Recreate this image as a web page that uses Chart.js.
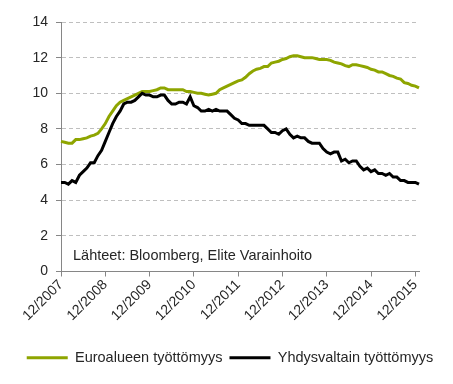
<!DOCTYPE html>
<html><head><meta charset="utf-8">
<style>html,body{margin:0;padding:0;background:#fff}#wrap{position:relative;width:453px;height:384px}</style>
<script src="https://cdn.jsdelivr.net/npm/chart.js@4/dist/chart.umd.min.js"></script>
</head><body><div id="wrap"><canvas id="c" width="453" height="384"></canvas></div>
<script>
// Monthly categories Dec 2007 .. Jan 2016
const categories = [];
for (let i = 0; i < 98; i++) {
  const mo = (11 + i) % 12 + 1;
  const yr = 2007 + Math.floor((11 + i) / 12);
  categories.push(mo + '/' + yr);
}
const tickLabels = ['12/2007','12/2008','12/2009','12/2010','12/2011','12/2012','12/2013','12/2014','12/2015'];
const yTicks = [0, 2, 4, 6, 8, 10, 12, 14];
const seriesNames = ['Euroalueen työttömyys', 'Yhdysvaltain työttömyys'];
const sourceNote = 'Lähteet: Bloomberg, Elite Varainhoito';

const euroValues = [
  7.3, 7.25, 7.2, 7.2, 7.4, 7.4, 7.45, 7.5, 7.6, 7.65, 7.75, 8.0,
  8.3, 8.7, 9.0, 9.3, 9.5, 9.6, 9.7, 9.8, 9.9, 10.0, 10.1, 10.1,
  10.1, 10.15, 10.2, 10.3, 10.3, 10.2, 10.2, 10.2, 10.2, 10.2, 10.1, 10.1,
  10.05, 10.0, 10.0, 9.95, 9.9, 9.95, 10.0, 10.2, 10.3, 10.4, 10.5, 10.6,
  10.7, 10.75, 10.9, 11.1, 11.25, 11.35, 11.4, 11.5, 11.5, 11.7, 11.75, 11.8,
  11.9, 11.95, 12.05, 12.1, 12.1, 12.05, 12.0, 12.0, 12.0, 11.95, 11.9, 11.9,
  11.9, 11.85, 11.75, 11.7, 11.65, 11.55, 11.5, 11.6, 11.6, 11.55, 11.5, 11.45,
  11.35, 11.3, 11.2, 11.2, 11.1, 11.0, 10.95, 10.85, 10.8, 10.6, 10.55, 10.45,
  10.4, 10.3
];
const usValues = [
  5.0,
  5.0, 4.9, 5.1, 5.0, 5.4, 5.6, 5.8, 6.1, 6.1, 6.5, 6.8, 7.3,
  7.8, 8.3, 8.7, 9.0, 9.4, 9.5, 9.5, 9.6, 9.8, 10.0, 9.9, 9.9,
  9.8, 9.8, 9.9, 9.9, 9.6, 9.4, 9.4, 9.5, 9.5, 9.4, 9.8, 9.3,
  9.2, 9.0, 9.0, 9.1, 9.0, 9.1, 9.0, 9.0, 9.0, 8.8, 8.6, 8.5,
  8.3, 8.3, 8.2, 8.2, 8.2, 8.2, 8.2, 8.0, 7.8, 7.8, 7.7, 7.9,
  8.0, 7.7, 7.5, 7.6, 7.5, 7.5, 7.3, 7.2, 7.2, 7.2, 6.9, 6.7,
  6.6, 6.7, 6.7, 6.2, 6.3, 6.1, 6.2, 6.2, 5.9, 5.7, 5.8, 5.6,
  5.7, 5.5, 5.5, 5.4, 5.5, 5.3, 5.3, 5.1, 5.1, 5.0, 5.0, 5.0,
  4.9
];

const FONT = "'Liberation Sans', Arial, sans-serif";
const TXT = '#262626';
const GREEN = '#8ea500';
const AXIS = '#868686';

const notePlugin = {
  id: 'note',
  afterDraw(chart) {
    const {ctx, chartArea} = chart;
    ctx.save();
    ctx.font = '14.5px ' + FONT;
    ctx.fillStyle = TXT;
    ctx.textBaseline = 'middle';
    ctx.textAlign = 'left';
    ctx.fillText(sourceNote, chartArea.left + 12, chart.scales.y.getPixelForValue(0.85));
    ctx.restore();
  }
};

new Chart(document.getElementById('c'), {
  type: 'line',
  data: {
    labels: categories,
    datasets: [
      { label: seriesNames[0], data: euroValues, borderColor: GREEN, backgroundColor: GREEN,
        borderWidth: 3, pointRadius: 0, tension: 0, order: 1, yAxisID: 'y' },
      { label: seriesNames[1], data: usValues, borderColor: '#000000', backgroundColor: '#000000',
        borderWidth: 3, pointRadius: 0, tension: 0, order: 0, yAxisID: 'y' }
    ]
  },
  options: {
    responsive: false,
    animation: false,
    devicePixelRatio: 1,
    layout: { padding: { top: 22, right: 0, left: 7, bottom: 9 } },
    plugins: {
      tooltip: { enabled: false },
      legend: {
        position: 'bottom',
        labels: {
          boxWidth: 41, boxHeight: 3, padding: 7,
          color: TXT,
          font: { family: FONT, size: 14.5 },
          generateLabels: chart => chart.data.datasets.map((ds, i) => ({
            text: ds.label, fillStyle: ds.borderColor, strokeStyle: ds.borderColor,
            lineWidth: 0, hidden: false, datasetIndex: i, fontColor: TXT
          }))
        }
      }
    },
    scales: {
      x: {
        type: 'category',
        offset: false,
        afterFit(s) { s.height = 72; },
        grid: { display: true, drawOnChartArea: false, drawTicks: true, tickLength: 5, color: AXIS, tickColor: AXIS },
        border: { display: true, color: AXIS, width: 1 },
        ticks: {
          autoSkip: false, maxRotation: 45, minRotation: 45, padding: 0,
          color: TXT, font: { family: FONT, size: 14 },
          callback: (v, i) => tickLabels.includes(categories[i]) ? categories[i] : null
        }
      },
      y: {
        position: 'left',
        min: yTicks[0], max: yTicks[yTicks.length - 1],
        afterFit(s) { s.width = 54; },
        afterBuildTicks(s) { s.ticks = yTicks.map(v => ({ value: v })); },
        grid: { color: '#BFBFBF', lineWidth: 1, tickLength: 5, tickColor: AXIS },
        border: { display: true, color: AXIS, width: 1, dash: [4, 3] },
        ticks: { padding: 8, color: TXT, font: { family: FONT, size: 14 } }
      },
      yR: {
        type: 'linear',
        position: 'right',
        display: true,
        afterFit(s) { s.width = 34; },
        grid: { display: false, drawOnChartArea: false, drawTicks: false },
        border: { display: false },
        ticks: { display: false }
      }
    }
  },
  plugins: [notePlugin]
});
</script>
</body></html>
